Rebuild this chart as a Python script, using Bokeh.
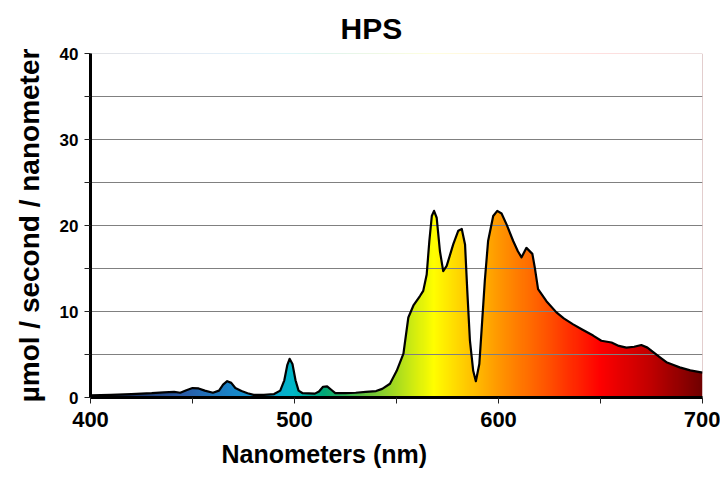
import numpy as np
from bokeh.plotting import figure
from bokeh.models import Range1d, FixedTicker, Title
from bokeh.embed import file_html
from bokeh.resources import INLINE

# ---- data ----
title_text = "HPS"
x_label = "Nanometers (nm)"
y_label = "µmol / second / nanometer"

wavelength = [400, 410, 420, 430, 436, 441, 444, 447, 450, 453, 456, 460, 463, 465, 467, 469,
              471, 474, 477, 480, 485, 490, 493, 495, 496.5, 497.6, 499, 500.5, 502, 504,
              510, 512, 514, 516, 518, 520, 525, 530, 535, 540, 543, 546.8, 550.1, 553.4,
              555.8, 558.3, 561.5, 563.1, 564.8, 566.1, 567.3, 568.4, 569.7, 571.3, 572.9,
              574.6, 577.8, 580.3, 582, 583.6, 584.7, 586, 587.6, 588.9, 590.6, 591.7, 593.3,
              594.9, 597.4, 599.4, 601.5, 604, 607.2, 609.5, 611.3, 613.7, 616.6, 617.8,
              619.4, 623.5, 628.4, 632, 636.6, 641, 646.4, 650.4, 655.4, 659, 662.7, 666.5,
              670, 673, 675.7, 679, 682.3, 685.5, 688.8, 694, 700]
intensity = [0.25, 0.3, 0.4, 0.5, 0.6, 0.65, 0.55, 0.85, 1.1, 1.05, 0.8, 0.55, 0.8, 1.5, 1.9, 1.7,
             1.1, 0.75, 0.5, 0.3, 0.3, 0.4, 0.8, 2.0, 3.8, 4.5, 3.9, 2.0, 0.8, 0.5,
             0.45, 0.7, 1.25, 1.3, 0.9, 0.5, 0.5, 0.55, 0.65, 0.75, 1.0, 1.6, 3.1, 5.1,
             9.3, 10.7, 11.8, 12.4, 14.3, 18.2, 21.1, 21.7, 20.9, 17.0, 14.7,
             15.3, 17.8, 19.4, 19.6, 17.8, 12.4, 6.6, 3.1, 1.9, 3.9, 7.8, 13.6,
             18.2, 21.1, 21.7, 21.4, 20.1, 18.2, 17.0, 16.3, 17.4, 16.7, 15.1,
             12.6, 11.2, 9.9, 9.2, 8.5, 7.9, 7.2, 6.6, 6.4, 6.0, 5.8, 5.9,
             6.1, 5.8, 5.3, 4.7, 4.1, 3.8, 3.5, 3.15, 2.9]

x_ticks = [400, 500, 600, 700]
x_minor_ticks = [450, 550, 650]
y_ticks = [0, 10, 20, 30, 40]
y_minor_ticks = [5, 15, 25, 35]

# gradient colour stops along the wavelength axis
stop_wl = [400, 420, 445, 468, 487, 499, 514, 534, 550, 568, 585, 600, 625, 650, 675, 700]
stop_col = ["#0c1830", "#1c3466", "#2a5ca8", "#1a84c8", "#10a0d0", "#00b8c8", "#00a878",
            "#60c040", "#a8dc20", "#ffff00", "#ffc800", "#ff9800", "#ff5000", "#ff0000",
            "#c00000", "#700000"]

FONT = "Liberation Sans"

p = figure(width=720, height=481, output_backend="svg", toolbar_location=None,
           x_range=Range1d(400, 700), y_range=Range1d(0, 40),
           min_border_left=90, min_border_right=18, min_border_top=53, min_border_bottom=84)
p.outline_line_color = None
p.background_fill_color = "white"
p.border_fill_color = "white"

# gradient image
ncol = 600
xs = np.linspace(400, 700, ncol)
rgb = [[int(c[i:i + 2], 16) for i in (1, 3, 5)] for c in stop_col]
r = np.interp(xs, stop_wl, [c[0] for c in rgb]).astype(np.uint32)
g = np.interp(xs, stop_wl, [c[1] for c in rgb]).astype(np.uint32)
b = np.interp(xs, stop_wl, [c[2] for c in rgb]).astype(np.uint32)
img = (255 << 24) | (b << 16) | (g << 8) | r
img = img.reshape(1, ncol).astype(np.uint32)
p.image_rgba(image=[img], x=400, y=0, dw=300, dh=40, level="image")

# white mask above the curve
mask_x = list(wavelength) + [700, 400]
mask_y = list(intensity) + [45, 45]
p.patch(mask_x, mask_y, fill_color="white", line_color=None, level="image")

# outline of the spectrum
p.line(wavelength, intensity, line_color="black", line_width=2.2, line_join="round")

# axes
p.xaxis.ticker = FixedTicker(ticks=x_ticks, minor_ticks=x_minor_ticks)
p.yaxis.ticker = FixedTicker(ticks=y_ticks, minor_ticks=y_minor_ticks)
for ax in (p.xaxis[0], p.yaxis[0]):
    ax.axis_line_color = "black"
    ax.axis_line_width = 3
    ax.major_tick_line_color = "#222222"
    ax.minor_tick_line_color = "#222222"
    ax.major_tick_in = 0
    ax.minor_tick_in = 0
    ax.major_tick_out = 6
    ax.minor_tick_out = 6
    ax.major_label_text_font = FONT
    ax.major_label_text_font_style = "bold"
    ax.major_label_text_color = "black"
p.xaxis.major_label_text_font_size = "22px"
p.xaxis.major_label_standoff = 8
p.yaxis.major_label_text_font_size = "17px"
p.yaxis.major_label_standoff = 6

p.xgrid.grid_line_color = None
p.ygrid.grid_line_color = "#808080"
p.ygrid.minor_grid_line_color = "#808080"
p.ygrid.grid_line_width = 1
p.ygrid.minor_grid_line_width = 1

# texts
p.title.text = title_text
p.title.align = "left"
p.title.offset = 250
p.title.standoff = 18
p.title.text_font = FONT
p.title.text_font_style = "bold"
p.title.text_font_size = "30px"
p.title.text_color = "black"

p.add_layout(Title(text=x_label, align="left", offset=131, standoff=16,
                   text_font=FONT, text_font_style="bold", text_font_size="25px",
                   text_color="black"), "below")

yax = p.yaxis[0]
yax.axis_label = y_label
yax.axis_label_standoff = 12
yax.axis_label_text_font = FONT
yax.axis_label_text_font_style = "bold"
yax.axis_label_text_font_size = "28px"
yax.axis_label_text_color = "black"

open("out.html", "w").write(file_html(p, INLINE))
